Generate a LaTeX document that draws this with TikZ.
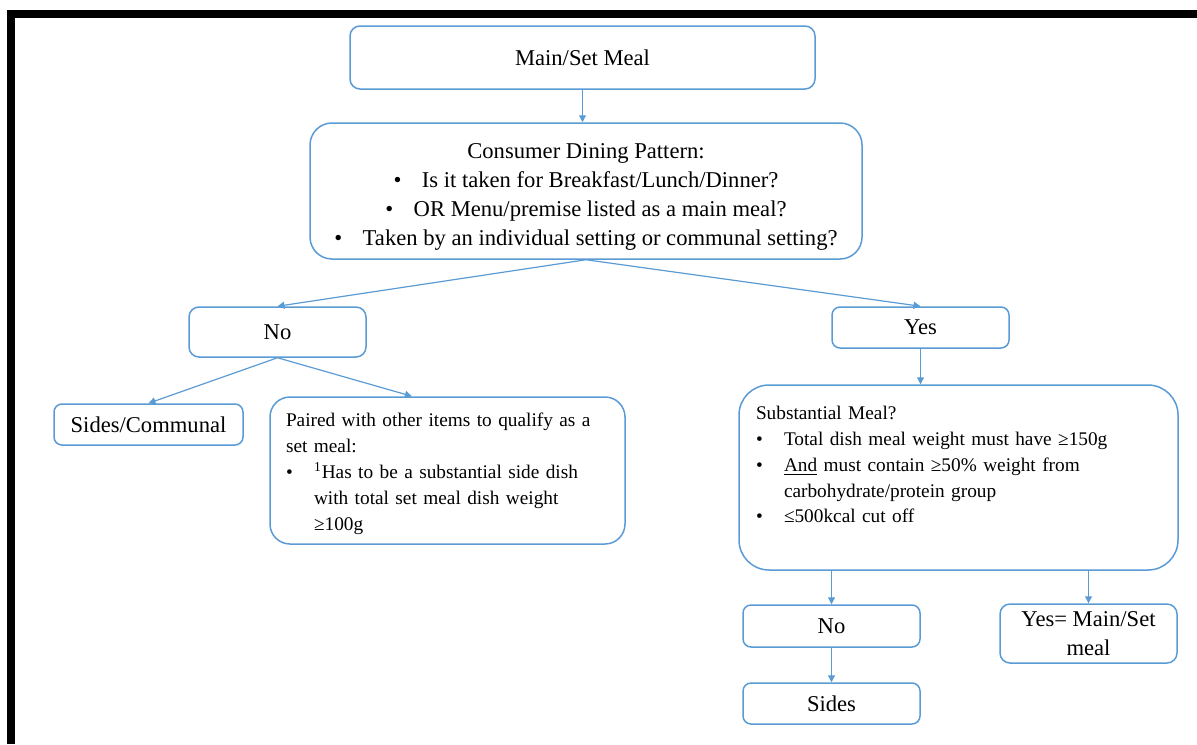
\documentclass[tikz,border=0pt]{standalone}
\usepackage{fontspec}
\setmainfont{Liberation Serif}
\usetikzlibrary{arrows.meta,calc}
\definecolor{boxblue}{RGB}{91,155,213}
\newcommand\blt{\makebox[14pt][l]{\textbullet}}
\begin{document}
\begin{tikzpicture}[x=0.5pt,y=-0.5pt,
	box/.style={draw=boxblue,line width=0.75pt,fill=white,align=center,inner sep=0pt,font=\fontsize{11.3}{14.5}\selectfont},
	textbox/.style={draw=boxblue,line width=0.75pt,fill=white,align=left,inner xsep=8pt,inner ysep=0pt,font=\fontsize{9.65}{12.9}\selectfont},
	arr/.style={draw=boxblue,line width=0.6pt,-{Triangle[length=3.5pt,width=3.5pt]}}]
	\useasboundingbox (0,0) rectangle (1197,744);
	\fill (7,10) rectangle (1197,18);
	\fill (7,10) rectangle (15,744);
	\node[box,rounded corners=5pt,minimum width=232.5pt,minimum height=31.5pt] (main) at (582.5,57.5) {Main/Set Meal};
	\node[box,rounded corners=11pt,minimum width=276pt,minimum height=68pt] (consumer) at (586,191) {\rule{0pt}{13pt}Consumer Dining Pattern:\\
		\textbullet\hspace{0.9em}Is it taken for Breakfast/Lunch/Dinner?\\
		\textbullet\hspace{0.9em}OR Menu/premise listed as a main meal?\\
		\textbullet\hspace{0.9em}Taken by an individual setting or communal setting?};
	\node[box,rounded corners=5pt,minimum width=88.5pt,minimum height=25pt] (no) at (277.5,332) {No};
	\node[box,rounded corners=4pt,minimum width=88.5pt,minimum height=20.5pt] (yes) at (920.5,327.5) {Yes};
	\node[box,rounded corners=4pt,minimum width=94.5pt,minimum height=20.5pt] (sidescomm) at (148.5,424.5) {Sides/Communal};
	\node[textbox,rounded corners=10pt,text width=161.5pt,minimum height=73.5pt] (paired) at (447.5,470.5) {\rule{0pt}{10pt}Paired with other items to qualify as a\\
		set meal:\\
		\blt\textsuperscript{1}Has to be a substantial side dish\\
		\hspace*{14pt}with total set meal dish weight\\
		\hspace*{14pt}≥100g};
	\node[textbox,rounded corners=15pt,text width=202.5pt,inner xsep=8.5pt,minimum height=92.5pt] (subst) at (958.5,477.5) {Substantial Meal?\\
		\blt Total dish meal weight must have ≥150g\\
		\blt\underline{And} must contain ≥50\% weight from\\
		\hspace*{14pt}carbohydrate/protein group\\
		\blt≤500kcal cut off\\[0pt]\mbox{}};
	\node[box,rounded corners=4pt,minimum width=88.5pt,minimum height=21pt] (no2) at (831.5,626) {No};
	\node[box,rounded corners=5pt,minimum width=88.5pt,minimum height=29.5pt] (yes2) at (1088.5,633.5) {Yes= Main/Set\\meal};
	\node[box,rounded corners=4pt,minimum width=88.5pt,minimum height=20.5pt] (sides) at (831.5,703.5) {Sides};
	\draw[arr] (main.south) -- (main.south |- consumer.north);
	\draw[arr] (consumer.south) -- (no.north);
	\draw[arr] (consumer.south) -- (yes.north);
	\draw[arr] (no.south) -- (sidescomm.north);
	\draw[arr] (no.south) -- ($(paired.north west)!0.4!(paired.north east)$);
	\draw[arr] (yes.south) -- (yes.south |- subst.north);
	\draw[arr] (subst.south -| no2.north) -- (no2.north);
	\draw[arr] (subst.south -| yes2.north) -- (yes2.north);
	\draw[arr] (no2.south) -- (sides.north);
\end{tikzpicture}
\end{document}
